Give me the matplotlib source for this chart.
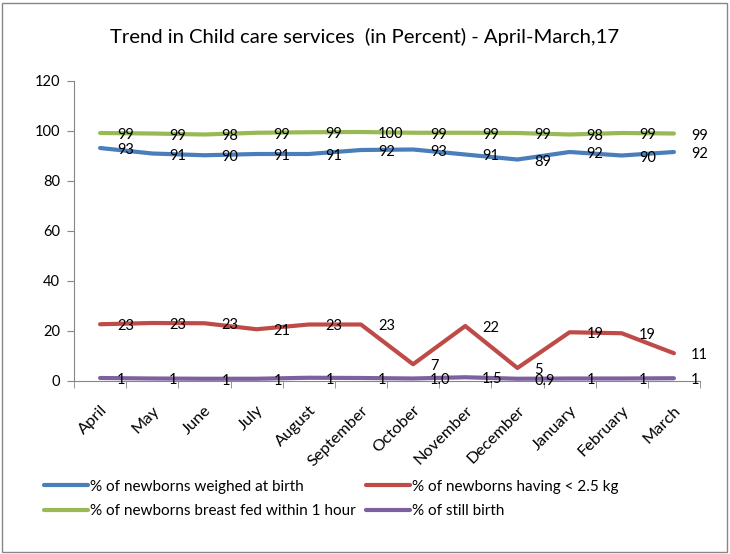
import matplotlib
matplotlib.use('Agg')
import matplotlib.pyplot as plt
from matplotlib.patches import Rectangle

plt.rcParams['font.family'] = ['Lato', 'DejaVu Sans']

months = ['April', 'May', 'June', 'July', 'August', 'September', 'October',
          'November', 'December', 'January', 'February', 'March']

weighed = [93.2, 91.0, 90.3, 90.8, 90.8, 92.4, 92.6, 90.6, 88.6, 91.6, 90.2, 91.6]
weighed_labels = ['93', '91', '90', '91', '91', '92', '93', '91', '89', '92', '90', '92']

low_weight = [22.7, 23.2, 23.1, 20.7, 22.6, 22.6, 6.7, 22.0, 5.2, 19.5, 19.1, 11.1]
low_weight_labels = ['23', '23', '23', '21', '23', '23', '7', '22', '5', '19', '19', '11']

breast_fed = [99.2, 99.0, 98.6, 99.3, 99.5, 99.6, 99.3, 99.3, 99.2, 98.6, 99.2, 99.0]
breast_fed_labels = ['99', '99', '98', '99', '99', '100', '99', '99', '99', '98', '99', '99']

still_birth = [1.2, 1.0, 0.9, 0.9, 1.3, 1.2, 1.0, 1.5, 0.9, 1.0, 1.0, 1.1]
still_birth_labels = ['1', '1', '1', '1', '1', '1', '1.0', '1.5', '0.9', '1', '1', '1']

series = [
    ('% of newborns weighed at birth', weighed, weighed_labels, '#4A7EBB'),
    ('% of newborns having < 2.5 kg', low_weight, low_weight_labels, '#BE4B48'),
    ('% of newborns breast fed within 1 hour', breast_fed, breast_fed_labels, '#98B954'),
    ('% of still birth', still_birth, still_birth_labels, '#7D60A0'),
]

fig = plt.figure(figsize=(7.3, 5.54), dpi=100)
ax = fig.add_axes([74 / 730, 1 - 381 / 554, 626 / 730, 300 / 554])

x = list(range(len(months)))
handles = []
for name, vals, labels, color in series:
    h, = ax.plot(x, vals, color=color, linewidth=3, solid_capstyle='round',
                 label=name)
    handles.append(h)
    for xi, v, lab in zip(x, vals, labels):
        ax.annotate(lab, (xi, v), xytext=(17, -2), textcoords='offset pixels',
                    ha='left', va='center', fontsize=10.5, color='black',
                    annotation_clip=False)

ax.set_xlim(-0.5, len(months) - 0.5)
ax.set_ylim(0, 120)
ax.set_yticks(range(0, 121, 20))
ax.tick_params(axis='y', direction='out', length=5, color='#868686',
               labelsize=10.5, pad=5)

ax.set_xticks(x)
ax.set_xticklabels(months, rotation=45, ha='right', rotation_mode='anchor')
ax.tick_params(axis='x', which='major', length=0, labelsize=11.8, pad=16)
ax.set_xticks([i - 0.5 for i in range(len(months) + 1)], minor=True)
ax.tick_params(axis='x', which='minor', direction='out', length=5,
               color='#868686')

for side in ['top', 'right']:
    ax.spines[side].set_visible(False)
for side in ['left', 'bottom']:
    ax.spines[side].set_color('#868686')

fig.text(0.5, 1 - 37 / 554, 'Trend in Child care services  (in Percent) - April-March,17',
         ha='center', va='center', fontsize=14.6)

# legend fills columns first, so order gives rows: blue/red, green/purple
fig.legend(handles=[handles[0], handles[2], handles[1], handles[3]],
           loc='upper left', bbox_to_anchor=(30 / 730, 1 - 466 / 554), ncol=2,
           frameon=False, fontsize=11, handlelength=2.9, handletextpad=0.1,
           columnspacing=0.7, labelspacing=0.7)

fig.patches.append(Rectangle((2 / 730, 2 / 554), 725 / 730, 549 / 554,
                             transform=fig.transFigure, fill=False,
                             edgecolor='#868686', linewidth=1))

fig.savefig('out.png', dpi=100)
